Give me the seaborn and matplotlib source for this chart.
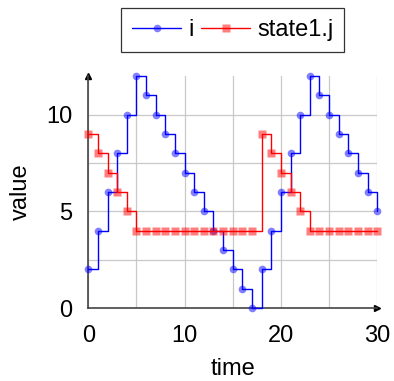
import matplotlib
matplotlib.use("Agg")
import numpy as np
import pandas as pd
import seaborn as sns
from matplotlib import pyplot as plt

# data
time = list(range(31))
i_vals = [2, 4, 6, 8, 10, 12, 11, 10, 9, 8, 7, 6, 5, 4, 3, 2, 1, 0,
          2, 4, 6, 8, 10, 12, 11, 10, 9, 8, 7, 6, 5]
j_vals = [9, 8, 7, 6, 5, 4, 4, 4, 4, 4, 4, 4, 4, 4, 4, 4, 4, 4,
          9, 8, 7, 6, 5, 4, 4, 4, 4, 4, 4, 4, 4]
x_ticks = [0, 10, 20, 30]
y_ticks = [0, 5, 10]

df = pd.DataFrame({"time": time, "i": i_vals, "state1.j": j_vals})

sns.set_style("white")
plt.rcParams["font.family"] = ["Liberation Sans", "DejaVu Sans"]
plt.rcParams["text.color"] = "black"
plt.rcParams["axes.labelcolor"] = "black"

fig = plt.figure(figsize=(3.94, 3.81), dpi=100)
ax = fig.add_axes([0.224, 0.1916, 0.7335, 0.609])

series = [
    ("i", (0, 0, 1), "o", 5.5),
    ("state1.j", (1, 0, 0), "s", 5.5),
]
for name, col, mk, ms in series:
    sns.lineplot(data=df, x="time", y=name, ax=ax, label=name,
                 drawstyle="steps-post", color=col, linewidth=1.0,
                 marker=mk, markersize=ms,
                 markerfacecolor=(*col, 0.5), markeredgecolor=(*col, 0.0),
                 clip_on=False, zorder=3)

ax.set_xlim(0, 30)
ax.set_ylim(0, 12)
ax.set_xticks(x_ticks)
ax.set_yticks(y_ticks)
ax.set_xticks([5, 15, 25], minor=True)
ax.set_yticks([2.5, 7.5], minor=True)
ax.grid(True, which="both", color="#c8c8c8", linewidth=0.9)
ax.tick_params(which="both", direction="inout", length=9, width=0.9,
               color="#666666", labelsize=17, labelcolor="black")
ax.tick_params(axis="x", pad=8)
ax.tick_params(axis="y", pad=7)

for side in ("top", "right"):
    ax.spines[side].set_visible(False)
for side in ("left", "bottom"):
    ax.spines[side].set_color("#444444")
    ax.spines[side].set_linewidth(1.2)
    ax.spines[side].set_zorder(2)

# axis arrows
ax.plot(1.0, 0, ">", color="black", ms=5, transform=ax.get_yaxis_transform(), clip_on=False)
ax.plot(0, 1.0, "^", color="black", ms=5, transform=ax.get_xaxis_transform(), clip_on=False)

ax.set_xlabel("time", fontsize=17, labelpad=8)
ax.set_ylabel("value", fontsize=17, labelpad=10)

leg = ax.legend(loc="lower center", bbox_to_anchor=(0.5, 1.105), ncol=2,
                fontsize=17, frameon=True, fancybox=False, edgecolor="black",
                handlelength=2.1, handletextpad=0.3, columnspacing=0.3,
                borderpad=0.45, borderaxespad=0)
leg.get_frame().set_linewidth(0.9)

plt.savefig("out.png", dpi=100)
plt.close()
